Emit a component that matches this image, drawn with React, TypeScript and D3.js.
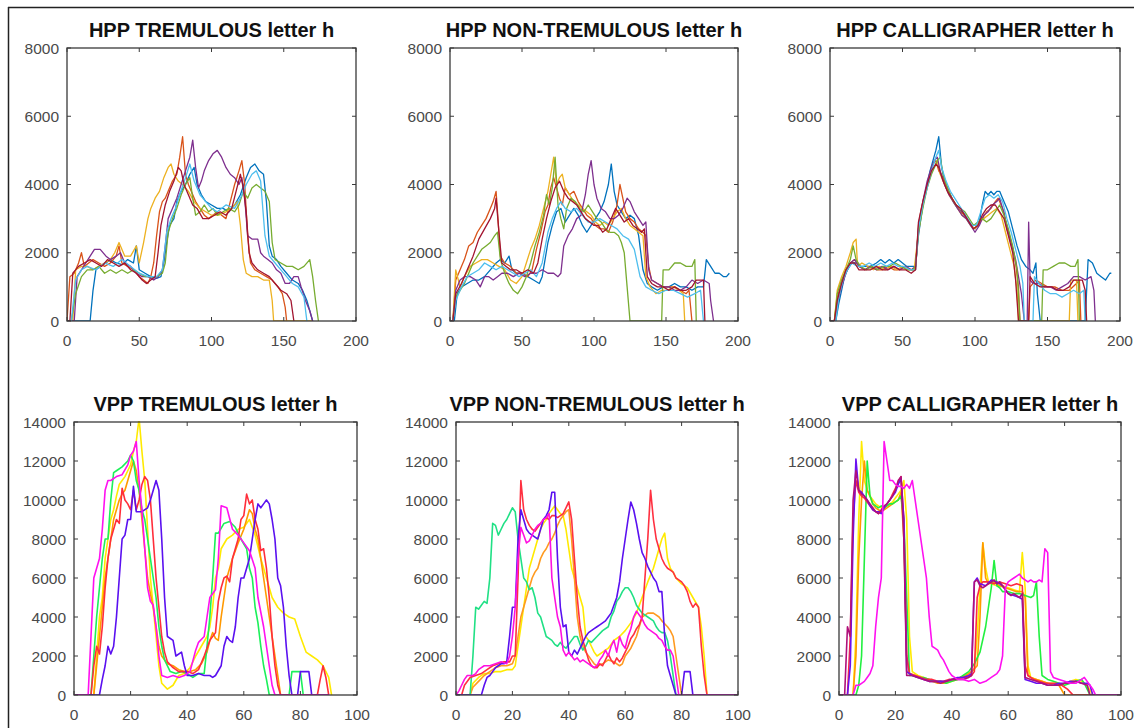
import React from 'react';
import * as d3 from 'd3';

type P = [number, number];

// ---------- tick labels ----------
const hppXTicks = [0, 50, 100, 150, 200];
const hppYTicks = [0, 2000, 4000, 6000, 8000];
const vppXTicks = [0, 20, 40, 60, 80, 100];
const vppYTicks = [0, 2000, 4000, 6000, 8000, 10000, 12000, 14000];

// ---------- colours ----------
const matlabColors = ['#0072BD', '#D95319', '#EDB120', '#7E2F8E', '#77AC30', '#4DBEEE', '#A2142F'];
const vppTremColors = ['#FFEA00', '#FF9900', '#1BF05A', '#FF2D3A', '#5A10F0', '#FF10F0'];
const vppNonColors = ['#FFEA00', '#FF9A20', '#20E085', '#FF3040', '#5A10F0', '#FF10E0'];
const vppCalColors = ['#FFEA00', '#FF9900', '#22F040', '#FF2A40', '#6A10F0', '#B0107A', '#FF10F0'];

// ---------- HPP TREMULOUS ----------
const hT_blue: P[] = [[0,0],[16,0],[18,900],[20,1500],[23,1600],[27,1700],[30,1800],[34,1700],[38,1650],[42,1800],[46,1700],[48,2200],[50,1500],[54,1400],[58,1300],[62,1250],[65,1300],[67,1700],[69,2300],[71,2800],[74,3000],[76,3500],[79,3800],[82,4000],[85,4300],[88,4500],[90,4000],[93,3700],[96,3500],[100,3400],[104,3300],[108,3300],[112,3200],[116,3400],[120,3700],[124,4200],[127,4500],[130,4600],[133,4400],[136,4300],[138,3500],[140,2200],[142,1900],[145,1800],[148,1600],[152,1400],[156,1200],[160,1100],[163,900],[166,600],[168,300],[170,0]];
const hT_orange: P[] = [[0,0],[2,1300],[5,1400],[8,1700],[10,2000],[12,1600],[15,1700],[18,1800],[22,1700],[26,1600],[30,1700],[34,1900],[36,2200],[38,1700],[42,1600],[46,1500],[50,1300],[53,1200],[56,1100],[58,1300],[60,1700],[62,2500],[64,3200],[66,3500],[68,3600],[70,3800],[73,4100],[76,4300],[78,4800],[80,5400],[82,4300],[84,4000],[86,3800],[89,3500],[92,3300],[95,3100],[98,3000],[101,3100],[104,3200],[107,3100],[110,3000],[113,3500],[116,4000],[119,4400],[121,4700],[123,4000],[125,2500],[127,1700],[130,1500],[134,1400],[138,1300],[142,1200],[146,1000],[149,800],[151,400],[152,0]];
const hT_yellow: P[] = [[0,0],[4,0],[6,1500],[10,1600],[14,1600],[18,1500],[22,1600],[26,1700],[30,1800],[33,2000],[36,2300],[40,1900],[44,1900],[48,2200],[50,1700],[53,2300],[56,3000],[58,3300],[61,3600],[64,3800],[67,4200],[70,4500],[72,4600],[74,4300],[77,4100],[80,4000],[84,3800],[88,3500],[92,3300],[96,3200],[100,3100],[105,3100],[110,3200],[114,3300],[118,3500],[120,2800],[122,1800],[124,1400],[128,1300],[132,1300],[136,1200],[140,1200],[142,600],[143,0],[170,0]];
const hT_purple: P[] = [[0,0],[5,0],[7,1300],[10,1500],[13,1700],[16,1900],[19,2100],[23,2100],[27,1900],[30,1800],[34,1900],[37,2000],[40,1700],[44,1600],[48,1400],[52,1300],[56,1300],[60,1200],[63,1300],[66,1500],[68,2200],[70,3000],[73,3300],[76,3600],[79,4000],[82,4400],[85,4800],[87,5300],[89,4500],[91,3900],[93,4100],[95,4400],[98,4700],[101,4900],[104,5000],[107,4800],[110,4500],[113,4300],[116,4200],[119,4000],[121,4200],[123,3600],[125,2500],[128,2400],[132,2400],[134,2000],[136,1900],[139,1800],[142,1700],[145,1500],[148,1400],[151,1100],[154,1100],[157,1300],[160,1300],[162,1000],[165,600],[168,300],[170,0]];
const hT_green: P[] = [[0,0],[3,0],[6,800],[10,1300],[14,1500],[18,1500],[22,1600],[26,1400],[30,1500],[34,1400],[38,1500],[42,1400],[46,1500],[50,1400],[54,1300],[58,1300],[62,1300],[66,1400],[68,1700],[70,2600],[73,3000],[76,3300],[79,3700],[82,4000],[85,4200],[87,3600],[89,3100],[92,3200],[95,3400],[98,3200],[101,3300],[104,3100],[108,3200],[112,3300],[116,3200],[119,3400],[122,3800],[125,3600],[128,3900],[131,4000],[134,3900],[137,3800],[140,3500],[142,2300],[144,1800],[148,1700],[152,1600],[156,1600],[160,1500],[164,1600],[168,1800],[170,1300],[172,600],[174,0]];
const hT_lightblue: P[] = [[0,0],[3,0],[6,1200],[10,1500],[14,1600],[20,1500],[26,1700],[32,1600],[38,1800],[44,1600],[50,1400],[56,1300],[62,1300],[66,1500],[69,2600],[72,3000],[75,3300],[78,3700],[82,4200],[85,4600],[88,4100],[92,3700],[96,3500],[100,3300],[104,3200],[110,3400],[116,3300],[120,3600],[124,4000],[128,4300],[131,4400],[134,4100],[137,2500],[140,1900],[144,1700],[148,1500],[152,1300],[156,1100],[160,1000],[164,700],[166,0]];
const hT_darkred: P[] = [[0,0],[2,0],[4,1400],[8,1600],[12,1700],[16,1800],[20,1700],[24,1600],[28,1800],[32,1700],[36,1600],[40,1700],[44,1500],[48,1400],[52,1200],[55,1100],[58,1200],[61,1300],[63,2000],[65,2800],[68,3400],[71,3800],[74,4100],[77,4500],[79,4400],[81,4000],[84,3700],[87,3400],[90,3300],[94,3000],[98,3000],[102,3100],[106,3200],[110,3100],[114,3300],[117,3800],[120,4300],[122,3900],[124,3200],[126,2000],[128,1700],[132,1500],[136,1400],[140,1300],[144,1100],[148,900],[152,800],[155,600],[157,0]];

// ---------- HPP NON-TREMULOUS ----------
const hN_blue: P[] = [[0,0],[3,0],[5,800],[8,1000],[12,1100],[16,1200],[20,1200],[24,1300],[28,1500],[32,1700],[35,1800],[38,1700],[41,1900],[43,1500],[46,1400],[50,1400],[54,1300],[58,1200],[62,1100],[64,1300],[66,1800],[68,2300],[71,2800],[74,3200],[77,3300],[80,2900],[83,3100],[86,3300],[89,3100],[92,2800],[95,2600],[98,2800],[101,3000],[104,3200],[107,3500],[110,4000],[112,4600],[114,3800],[116,3400],[119,3200],[122,3000],[125,3100],[128,3000],[131,2500],[134,1500],[137,1100],[140,1000],[144,900],[148,1000],[152,1000],[156,1100],[160,1000],[164,1000],[168,900],[172,1000],[176,1000],[178,1800],[181,1600],[184,1400],[187,1400],[190,1300],[192,1300],[194,1400]];
const hN_orange: P[] = [[0,0],[2,0],[4,1200],[7,1500],[10,1800],[13,2200],[16,2300],[19,2600],[22,2800],[25,3000],[28,3300],[30,3500],[32,3800],[33,3200],[35,1900],[38,1700],[42,1600],[46,1400],[50,1400],[54,1300],[57,1500],[60,2100],[63,2600],[66,3200],[68,3400],[70,3900],[72,4200],[74,3900],[76,3600],[78,3400],[80,3900],[83,3700],[86,3800],[89,3500],[92,3300],[95,3100],[98,3000],[101,2800],[104,2700],[107,2700],[110,2600],[113,2900],[116,3400],[118,4000],[120,3600],[122,3200],[125,3000],[128,2900],[131,2700],[134,2600],[136,2500],[138,1600],[140,1200],[144,1100],[148,1000],[152,1000],[156,1000],[160,900],[164,800],[166,900],[168,0]];
const hN_yellow: P[] = [[0,0],[2,0],[4,1500],[7,1000],[10,1300],[14,1600],[18,1700],[22,1800],[26,1800],[30,1700],[34,1600],[38,1500],[42,1200],[46,1100],[50,1300],[53,1700],[56,2100],[59,2400],[62,2800],[65,3300],[68,3800],[70,4300],[72,4800],[74,4000],[76,4200],[78,4300],[80,3900],[83,3700],[86,3500],[89,3400],[92,3300],[95,3200],[98,3100],[101,2900],[104,2800],[107,2900],[110,2800],[113,3000],[116,3200],[119,3300],[122,3000],[125,2800],[128,2700],[131,2600],[134,2500],[136,1300],[139,1000],[143,800],[147,900],[151,900],[155,1000],[159,900],[162,800],[163,0]];
const hN_purple: P[] = [[0,0],[2,0],[4,900],[7,1200],[10,1300],[14,1300],[18,1200],[21,1000],[24,1300],[27,1300],[30,1200],[33,1300],[36,1400],[40,1400],[44,1300],[48,1400],[52,1300],[56,1400],[60,1400],[64,1500],[68,1400],[72,1400],[75,1300],[77,1400],[79,2200],[82,2500],[85,2700],[88,3000],[91,3100],[94,3700],[96,4300],[98,4700],[100,4000],[102,3600],[105,3300],[108,3200],[111,3000],[114,3000],[117,3100],[120,3300],[123,3600],[125,3500],[128,3200],[131,3000],[134,2800],[136,2900],[138,1500],[140,1200],[144,1100],[148,1000],[152,1000],[156,900],[160,900],[164,1000],[168,1200],[172,1100],[176,1200],[180,1100],[181,600],[183,0]];
const hN_green: P[] = [[0,0],[2,0],[4,700],[7,900],[10,1100],[13,1400],[16,1700],[19,1900],[22,2100],[25,2200],[28,2300],[31,2500],[33,2600],[35,1800],[38,1400],[41,1100],[44,900],[47,800],[50,1000],[53,1300],[56,1700],[59,2200],[62,2600],[65,3100],[67,3700],[69,3400],[71,3900],[73,4800],[75,3400],[77,3000],[79,2700],[81,3300],[84,3600],[87,3500],[90,3300],[93,3200],[96,3400],[99,3200],[102,3000],[105,2900],[108,2700],[111,2600],[114,2600],[117,2500],[119,2300],[121,2000],[123,1000],[125,0],[147,0],[148,1500],[152,1500],[156,1700],[160,1700],[164,1600],[168,1600],[170,1800],[171,0]];
const hN_lightblue: P[] = [[0,0],[2,0],[4,600],[8,1000],[12,1300],[16,1400],[20,1500],[24,1700],[28,1600],[32,1500],[36,1600],[40,1500],[44,1400],[48,1300],[52,1400],[56,1500],[60,1300],[64,1700],[68,2600],[71,3000],[74,3300],[77,3500],[80,3300],[84,3200],[88,3300],[92,3100],[96,2900],[100,2900],[104,3000],[108,2900],[112,2800],[116,2700],[120,2500],[124,2400],[128,2100],[132,1300],[136,1000],[140,900],[145,800],[150,900],[155,900],[160,800],[165,700],[170,800],[174,900],[176,0]];
const hN_darkred: P[] = [[0,0],[2,0],[4,800],[8,1100],[12,1500],[16,1900],[20,2400],[24,2700],[28,3000],[31,3300],[32,3600],[34,2600],[36,1700],[39,1600],[42,1500],[46,1500],[50,1400],[54,1500],[58,1400],[61,1700],[64,2400],[67,3000],[70,3500],[73,3900],[76,4100],[79,3800],[82,3600],[85,3500],[88,3400],[91,3200],[94,3000],[97,2900],[100,2800],[103,2800],[106,2600],[109,2700],[112,3000],[115,3300],[118,3100],[121,2900],[124,3000],[127,2800],[130,2700],[133,2600],[135,2700],[137,1300],[140,1100],[144,1000],[148,1000],[152,900],[156,1000],[160,900],[164,900],[168,1000],[171,1200],[174,1200],[176,1200],[177,0]];

// ---------- HPP CALLIGRAPHER ----------
const hC_blue: P[] = [[0,0],[4,0],[6,500],[8,900],[10,1300],[12,1500],[15,1700],[18,1700],[21,1600],[24,1600],[28,1600],[32,1700],[35,1800],[38,1700],[41,1800],[44,1700],[47,1800],[50,1700],[53,1600],[56,1600],[59,1600],[61,2500],[63,3100],[65,3600],[67,4000],[69,4400],[71,4700],[73,5000],[75,5400],[77,4500],[79,4100],[82,3800],[85,3500],[88,3300],[91,3200],[94,3000],[97,2800],[100,2700],[103,2900],[105,3400],[107,3800],[109,3700],[111,3800],[113,3700],[115,3800],[117,3800],[119,3600],[121,3400],[123,3200],[126,2700],[129,2200],[132,1800],[135,1600],[138,1500],[140,1400],[142,1700],[143,800],[145,0],[176,0],[178,1800],[181,1700],[184,1400],[187,1300],[190,1200],[193,1400],[194,1400]];
const hC_orange: P[] = [[0,0],[3,0],[5,700],[8,1100],[11,1500],[14,1700],[17,1800],[20,1600],[24,1500],[28,1600],[32,1500],[36,1500],[40,1600],[44,1500],[48,1500],[52,1600],[56,1500],[59,1500],[61,2800],[63,3300],[66,3800],[69,4300],[71,4600],[73,4700],[75,4400],[78,4200],[81,3900],[84,3600],[87,3400],[90,3200],[93,3100],[96,2900],[99,2700],[102,2800],[105,3000],[108,3200],[111,3300],[114,3500],[116,3600],[118,3400],[120,3200],[122,2700],[125,2300],[128,1700],[130,1000],[131,0],[137,0],[138,1000],[142,1200],[146,1100],[150,1000],[155,1000],[160,900],[165,900],[170,1100],[172,1200],[173,0]];
const hC_yellow: P[] = [[0,0],[3,0],[5,900],[8,1300],[11,1600],[14,2000],[16,2300],[18,2400],[19,1600],[22,1700],[26,1600],[30,1500],[34,1600],[38,1500],[42,1600],[46,1500],[50,1600],[54,1500],[58,1500],[61,2600],[64,3400],[67,3900],[70,4400],[72,4500],[74,4700],[76,4300],[79,4000],[82,3700],[85,3500],[88,3300],[91,3100],[94,3000],[97,2800],[100,2700],[103,2900],[106,3000],[109,3100],[112,3200],[115,3300],[118,3100],[121,2600],[124,2100],[127,1600],[129,900],[130,0],[165,0],[166,1200],[170,1200],[171,0]];
const hC_purple: P[] = [[0,0],[3,0],[5,500],[8,1000],[11,1400],[14,1700],[17,1800],[20,1600],[24,1500],[28,1600],[32,1500],[36,1600],[40,1500],[44,1600],[48,1500],[52,1600],[56,1500],[59,1600],[61,2700],[64,3500],[67,4100],[70,4500],[72,4700],[74,4800],[76,4400],[79,4000],[82,3700],[85,3500],[88,3300],[91,3100],[94,3000],[97,2800],[100,2600],[103,2800],[106,3100],[109,3200],[112,3400],[115,3500],[117,3600],[119,3300],[122,2800],[125,2300],[128,1800],[130,1300],[132,800],[134,0],[136,0],[137,2900],[138,1200],[140,1100],[144,1100],[148,1000],[152,1000],[156,900],[160,1000],[164,1100],[168,1300],[172,1300],[176,1200],[180,1300],[182,900],[183,0]];
const hC_green: P[] = [[0,0],[3,0],[5,800],[8,1200],[11,1500],[14,1800],[16,2200],[18,1800],[21,1600],[25,1500],[29,1600],[33,1500],[37,1600],[41,1600],[45,1700],[49,1600],[53,1500],[57,1500],[59,1600],[61,2600],[64,3300],[67,3900],[70,4300],[72,4500],[74,4700],[76,4800],[78,4300],[81,3900],[84,3600],[87,3400],[90,3300],[93,3200],[96,3000],[99,2800],[102,2900],[105,3000],[108,2900],[111,3000],[114,3200],[117,3400],[120,3100],[123,2700],[126,2200],[129,1500],[131,0],[146,0],[147,1500],[150,1500],[154,1600],[158,1700],[162,1700],[166,1600],[169,1600],[171,1800],[172,0]];
const hC_lightblue: P[] = [[0,0],[4,0],[6,700],[9,1200],[12,1500],[15,1700],[19,1600],[23,1600],[27,1700],[31,1600],[35,1700],[39,1600],[43,1700],[47,1600],[51,1600],[55,1500],[59,1500],[61,2700],[64,3400],[67,3900],[70,4400],[73,4800],[75,5000],[77,4500],[80,4100],[83,3800],[86,3600],[89,3400],[92,3200],[95,3000],[98,2800],[101,2800],[104,3200],[107,3600],[110,3700],[113,3600],[116,3700],[119,3500],[122,3000],[125,2600],[128,2100],[131,1600],[133,1100],[134,0],[140,0],[141,1300],[144,1100],[148,900],[152,800],[156,800],[160,700],[164,800],[168,900],[172,800],[175,900],[176,0]];
const hC_darkred: P[] = [[0,0],[3,0],[5,600],[8,1100],[11,1500],[14,1700],[17,1700],[20,1500],[24,1500],[28,1500],[32,1600],[36,1500],[40,1500],[44,1600],[48,1500],[52,1500],[56,1400],[59,1500],[61,2900],[64,3500],[67,4000],[70,4400],[73,4600],[75,4500],[78,4100],[81,3800],[84,3600],[87,3400],[90,3300],[93,3100],[96,2900],[99,2700],[102,2800],[105,3100],[108,3300],[111,3400],[114,3400],[117,3200],[120,3000],[123,2500],[126,2000],[128,1200],[130,0],[137,0],[138,1300],[141,1100],[145,1000],[149,1000],[153,1000],[157,900],[161,900],[165,1000],[168,1200],[171,1200],[174,1200],[176,900],[177,0]];

// ---------- VPP TREMULOUS ----------
const vT_yellow: P[] = [[0,0],[7,0],[8,2000],[9,4000],[10,5000],[11,7000],[12,8000],[13,9000],[14,9500],[15,10200],[16,10800],[17,11000],[18,11200],[19,11500],[20,11800],[21,12500],[22,13000],[23,14200],[24,12500],[25,11000],[26,8500],[27,6000],[28,4500],[29,3000],[30,1500],[31,600],[33,300],[35,500],[37,1000],[39,1100],[41,1400],[43,2000],[45,2500],[47,3000],[48,3500],[49,4500],[50,6000],[51,6500],[52,7500],[54,8000],[56,8200],[58,8500],[60,8600],[62,9000],[64,8200],[66,7000],[68,6000],[70,5000],[72,4500],[74,4200],[76,4000],[78,3900],[80,3000],[82,2200],[84,2000],[86,1800],[88,1500],[90,900],[91,0]];
const vT_orange: P[] = [[0,0],[7,0],[8,1500],[9,3000],[10,4500],[11,6000],[12,7000],[13,8000],[14,9000],[15,9500],[16,10000],[17,10300],[18,10500],[19,11000],[20,11500],[21,12000],[22,11500],[23,10500],[24,9000],[25,7500],[26,6000],[27,5200],[28,4500],[29,3500],[30,2500],[31,2000],[33,1600],[35,1500],[37,1300],[39,1200],[41,1200],[43,1300],[45,1600],[47,2200],[48,2800],[49,3200],[50,2900],[51,2800],[52,4000],[53,5000],[54,6000],[55,6500],[56,7000],[58,7800],[60,8500],[61,9000],[62,9500],[63,9300],[64,8500],[65,8000],[66,7000],[67,6000],[68,5000],[69,4000],[70,3000],[71,2000],[72,1000],[73,0],[90,0]];
const vT_green: P[] = [[0,0],[6,0],[7,2000],[8,4000],[9,5500],[10,7000],[11,8000],[12,8000],[13,10000],[14,11400],[15,11500],[17,11700],[19,12000],[20,12300],[21,12000],[22,11000],[23,10500],[24,9500],[25,9000],[26,8000],[27,7000],[28,6000],[29,5000],[30,3500],[31,2500],[32,1800],[34,1200],[36,1100],[38,1200],[40,1100],[42,900],[44,1100],[46,1100],[47,2500],[48,4000],[49,6000],[50,8300],[51,8300],[53,8800],[55,8900],[57,8600],[59,8000],[61,7500],[62,6500],[63,6000],[64,4500],[65,3700],[66,2500],[67,1500],[68,800],[69,0],[76,0],[77,1200],[80,1200],[81,0],[90,0]];
const vT_red: P[] = [[0,0],[6,0],[7,1500],[8,2500],[9,2100],[10,3500],[11,5500],[12,7000],[13,8000],[14,8500],[15,9000],[16,8800],[17,10600],[18,10000],[19,9800],[20,9500],[21,10500],[22,9500],[23,10000],[24,10800],[25,11200],[26,11000],[27,10000],[28,8000],[29,6000],[30,4500],[31,3000],[32,2200],[33,1700],[35,1400],[37,1200],[40,1200],[42,1100],[44,1300],[46,2000],[48,2800],[50,3200],[51,4800],[52,5500],[53,6000],[54,6100],[55,5800],[56,7000],[57,7500],[58,8000],[59,9000],[60,9200],[61,10300],[62,9800],[63,10000],[64,9000],[65,8500],[66,7400],[67,7500],[68,6500],[69,5000],[70,3000],[71,1500],[72,500],[73,0],[86,0],[87,800],[88,1500],[89,900],[90,0]];
const vT_violet: P[] = [[0,0],[9,0],[10,800],[11,1500],[12,2500],[13,2100],[14,2500],[15,4000],[16,6000],[17,8000],[18,8200],[19,9000],[20,9000],[21,10700],[22,9400],[24,9400],[26,9600],[27,10000],[28,10500],[29,11000],[30,10500],[31,8000],[32,5000],[33,3000],[35,2800],[36,2000],[38,2200],[39,1500],[40,1000],[42,1000],[44,1100],[46,1000],[48,1000],[49,900],[50,1000],[52,1500],[53,2500],[54,3000],[55,2800],[56,2700],[57,3500],[58,5000],[59,6000],[60,6000],[61,6500],[62,7000],[63,8000],[64,9000],[65,9800],[66,9600],[67,9800],[68,10000],[69,9800],[70,9000],[71,8000],[72,6000],[73,5600],[74,4500],[75,2500],[76,1000],[77,0],[79,0],[80,1200],[83,1200],[84,0],[90,0]];
const vT_magenta: P[] = [[0,0],[5,0],[6,3000],[7,6000],[8,6500],[9,7000],[10,8500],[11,10500],[12,11000],[13,11000],[15,11200],[17,11300],[19,11800],[20,12300],[21,12500],[22,13000],[23,11000],[24,9500],[25,7500],[26,5500],[27,4800],[28,4600],[29,3500],[30,2000],[31,1000],[33,900],[35,1000],[37,900],[39,1000],[41,1200],[43,2300],[44,2700],[46,3000],[47,4000],[48,5000],[50,5400],[51,7000],[52,9700],[54,9600],[56,8500],[58,8200],[60,7800],[62,7400],[64,6500],[65,5000],[67,3500],[69,1500],[70,500],[71,0],[90,0]];

// ---------- VPP NON-TREMULOUS ----------
const vN_yellow: P[] = [[0,0],[5,0],[6,600],[8,900],[10,1100],[12,1100],[14,1200],[16,1200],[18,1300],[20,1300],[21,1500],[22,2500],[23,3500],[24,4500],[25,5500],[26,6500],[27,7000],[28,7500],[29,8000],[30,8500],[31,8800],[32,9000],[33,9300],[34,9500],[35,9700],[36,9500],[37,9300],[38,9200],[39,8500],[40,7500],[41,6500],[42,6000],[43,5500],[44,5000],[45,4500],[46,3000],[47,2800],[48,2500],[49,2200],[50,2000],[52,2200],[54,2400],[56,2800],[58,3000],[60,3300],[62,3700],[64,4200],[66,5000],[68,5800],[70,6500],[71,7000],[72,7500],[73,8000],[74,8300],[75,7000],[76,6500],[77,6300],[78,6000],[80,5700],[82,5500],[84,5000],[86,4500],[87,3500],[88,2000],[89,0],[100,0]];
const vN_orange: P[] = [[0,0],[5,0],[6,400],[8,700],[10,1000],[12,1200],[14,1400],[16,1500],[18,1500],[20,1600],[21,2000],[22,3000],[23,4000],[24,4500],[25,5000],[26,5500],[27,6000],[28,6300],[29,6500],[30,7000],[31,7300],[32,7500],[33,7800],[34,8000],[35,8300],[36,8700],[37,9000],[38,9200],[39,9400],[40,9500],[41,8000],[42,6000],[43,4000],[44,3000],[45,2500],[46,2200],[47,2000],[48,1800],[49,1600],[50,1500],[52,1600],[54,1800],[56,1700],[58,1500],[59,1600],[60,2000],[62,2400],[64,3000],[65,3500],[66,4000],[67,4100],[68,4200],[70,4200],[72,4000],[73,3800],[75,3500],[76,3300],[77,3000],[78,2000],[79,1000],[80,0],[100,0]];
const vN_green: P[] = [[0,0],[5,0],[6,2000],[7,4500],[8,4400],[9,4600],[10,4800],[11,4700],[12,6000],[13,8800],[14,8700],[15,8200],[16,8500],[17,8800],[18,9000],[19,9300],[20,9600],[21,9400],[22,8000],[23,7000],[24,6000],[25,5800],[26,5400],[27,5500],[28,5000],[29,4200],[30,4000],[31,3500],[32,3000],[33,2900],[34,2800],[35,2600],[36,2500],[37,2700],[38,2500],[39,2400],[40,2600],[41,2800],[42,3000],[43,3000],[44,2600],[45,2300],[46,2500],[47,2800],[48,2700],[50,3000],[52,3300],[54,3500],[55,4000],[56,4300],[57,4800],[58,5000],[59,5300],[60,5500],[61,5500],[62,5300],[63,5000],[64,4600],[65,4400],[66,4200],[68,4000],[70,3800],[71,3500],[72,3300],[73,3200],[74,3200],[75,2800],[76,2000],[77,1000],[78,0],[100,0]];
const vN_red: P[] = [[0,0],[2,0],[3,500],[5,900],[7,1000],[9,1100],[11,1300],[13,1500],[15,1600],[17,1700],[19,1700],[20,2000],[21,2000],[22,6000],[23,11000],[24,9500],[25,9000],[26,8700],[27,8500],[28,8400],[29,8600],[30,8800],[31,9000],[32,9100],[33,9000],[34,9200],[35,9200],[36,9100],[37,9200],[38,9300],[39,9600],[40,9900],[41,9000],[42,7000],[43,5000],[44,3500],[45,2800],[46,2300],[47,1800],[48,1500],[49,1400],[50,1400],[51,1600],[52,1500],[53,1800],[54,2100],[55,1800],[56,1600],[57,1900],[58,1700],[59,1900],[60,2200],[61,2500],[62,2900],[63,3100],[64,3400],[65,3600],[66,4000],[67,6000],[68,8000],[69,10500],[70,9000],[71,8000],[72,7500],[73,7000],[74,6700],[75,6500],[76,6400],[77,6300],[78,6000],[79,5900],[80,5800],[81,5600],[82,5300],[83,4800],[84,4500],[85,4700],[86,4500],[87,2500],[88,1000],[89,0],[100,0]];
const vN_violet: P[] = [[0,0],[9,0],[10,500],[11,900],[12,1000],[13,1200],[14,1400],[15,1500],[16,1600],[17,1600],[18,1700],[19,3000],[20,4500],[21,4500],[22,8000],[23,9500],[24,9000],[25,8500],[26,8300],[27,8200],[28,8100],[29,8000],[30,8500],[31,9000],[32,9200],[33,9500],[34,10400],[35,10400],[36,7000],[37,4500],[38,3500],[39,3600],[40,2200],[41,2000],[42,2300],[43,2100],[44,2400],[45,2700],[46,3000],[47,3200],[48,3300],[49,3400],[50,3500],[51,3600],[52,3700],[53,3800],[54,4000],[55,4200],[56,4600],[57,5000],[58,5800],[59,7000],[60,8000],[61,9000],[62,9900],[63,9500],[64,8800],[65,8000],[66,7300],[67,7000],[68,6600],[69,6300],[70,6000],[71,5800],[72,5300],[73,5300],[74,3000],[75,1500],[76,1000],[77,500],[78,0],[80,0],[81,1200],[83,1200],[84,0],[100,0]];
const vN_magenta: P[] = [[0,0],[1,200],[2,500],[3,800],[4,1000],[6,1000],[7,1100],[8,1300],[9,1400],[10,1500],[12,1500],[14,1600],[16,1700],[18,1600],[19,2000],[20,3000],[21,4500],[22,7000],[23,8600],[24,8200],[25,7800],[26,7900],[27,8200],[28,8500],[29,8700],[30,8800],[31,9000],[32,9100],[33,9300],[34,6000],[35,5000],[36,4000],[37,3500],[38,2300],[39,2000],[40,2200],[41,2000],[42,1800],[43,1900],[44,1700],[45,1800],[46,1700],[47,1600],[48,1500],[49,1400],[50,1500],[51,1800],[52,2000],[53,2300],[54,2000],[55,2500],[56,2800],[57,2200],[58,3000],[59,2600],[60,2400],[61,3000],[62,3400],[63,4000],[64,4300],[65,4100],[66,3900],[67,3600],[68,3400],[69,3300],[70,3200],[71,3100],[72,2900],[73,2800],[74,2500],[75,2300],[76,2300],[77,2000],[78,1000],[79,0],[100,0]];

// ---------- VPP CALLIGRAPHER ----------
const vC_yellow: P[] = [[0,0],[5,0],[6,3000],[7,9000],[8,13000],[9,11000],[10,10500],[11,10200],[12,10000],[13,9800],[14,9700],[15,9600],[16,9600],[17,9700],[18,9800],[19,9900],[20,10100],[21,10300],[22,10500],[23,11000],[24,9000],[25,3000],[26,1200],[28,1000],[30,900],[32,800],[34,700],[36,700],[38,600],[40,700],[42,800],[44,900],[46,1100],[48,1300],[49,3000],[50,5500],[51,7800],[52,6500],[53,5800],[54,5700],[56,5600],[58,5600],[60,5500],[62,5400],[64,5300],[65,7300],[66,5500],[67,1500],[68,900],[70,800],[72,700],[74,600],[76,600],[78,500],[80,600],[82,700],[84,800],[86,700],[88,500],[90,0],[100,0]];
const vC_orange: P[] = [[0,0],[5,0],[6,2000],[7,7000],[8,10000],[9,12000],[10,10500],[11,10200],[12,9800],[13,9600],[14,9500],[15,9400],[16,9500],[17,9600],[18,9700],[19,9800],[20,9900],[21,10000],[22,10400],[23,8000],[24,2000],[25,1100],[27,1000],[29,900],[31,800],[33,700],[35,600],[37,600],[39,700],[41,800],[43,900],[45,1000],[47,1200],[49,1500],[50,4000],[51,7800],[52,6000],[53,5700],[55,5800],[57,5600],[59,5500],[61,5400],[63,5300],[65,5300],[66,5000],[67,1000],[68,900],[70,800],[72,700],[74,600],[76,500],[78,500],[80,0],[100,0]];
const vC_green: P[] = [[0,0],[6,0],[7,500],[8,2000],[9,7000],[10,12000],[11,10200],[12,9800],[13,9700],[14,9600],[15,9700],[16,9600],[17,9700],[18,9800],[19,9800],[20,9900],[21,10000],[22,10200],[23,9000],[24,5000],[25,1000],[26,1000],[28,900],[30,900],[32,800],[34,700],[36,700],[38,600],[40,700],[42,800],[44,1000],[46,1200],[48,1600],[50,2200],[52,3500],[53,4500],[54,5500],[55,6900],[56,5600],[57,5500],[58,5300],[60,5300],[62,5200],[64,5200],[66,5100],[68,5000],[69,5100],[70,5800],[71,3000],[72,1000],[74,800],[76,700],[78,600],[80,500],[82,600],[84,700],[86,800],[87,600],[88,300],[89,0],[100,0]];
const vC_red: P[] = [[0,0],[3,0],[4,3000],[5,9000],[6,11000],[7,10400],[8,10200],[9,10100],[10,9900],[11,9700],[12,9500],[13,9400],[14,9300],[15,9400],[16,9600],[17,9800],[18,10000],[19,10300],[20,10600],[21,10900],[22,11200],[23,9000],[24,2000],[25,1100],[27,1000],[29,900],[31,800],[33,800],[35,700],[37,700],[39,800],[41,800],[43,900],[45,900],[47,1000],[48,1200],[49,5000],[50,5600],[51,5800],[53,5800],[55,5700],[57,5800],[59,5700],[61,5600],[63,5700],[65,5600],[66,1500],[67,1000],[69,800],[71,700],[73,600],[75,600],[77,600],[79,500],[81,300],[83,0],[100,0]];
const vC_violet: P[] = [[0,0],[3,0],[4,1500],[5,8000],[6,12100],[7,10500],[8,10400],[9,10200],[10,10000],[11,9700],[12,9500],[13,9400],[14,9400],[15,9300],[16,9600],[17,9800],[18,10000],[19,10200],[20,10400],[21,10800],[22,11100],[23,9000],[24,1200],[26,1000],[28,900],[30,800],[32,700],[34,700],[36,700],[38,700],[40,800],[42,900],[44,900],[46,1000],[47,1100],[48,5800],[49,6000],[50,5700],[52,5600],[54,5900],[56,5800],[58,5600],[60,5200],[62,5100],[64,5000],[65,4900],[66,800],[68,700],[70,600],[72,600],[74,500],[76,500],[78,600],[80,600],[82,700],[84,700],[86,600],[88,600],[89,500],[90,0],[100,0]];
const vC_plum: P[] = [[0,0],[2,0],[3,3500],[4,3000],[5,10000],[6,11500],[7,10500],[8,10300],[9,10200],[10,10000],[11,9800],[12,9600],[13,9400],[14,9300],[15,9500],[16,9700],[17,9800],[18,10000],[19,10200],[20,10500],[21,11000],[22,11200],[23,8000],[24,1000],[26,1000],[28,900],[30,800],[32,700],[34,700],[36,600],[38,700],[40,800],[42,800],[44,800],[46,900],[47,1000],[48,5800],[49,5900],[50,5600],[51,5500],[52,5600],[53,5700],[54,5800],[55,5900],[56,5700],[57,5800],[58,5600],[59,5400],[60,5200],[61,5100],[62,5200],[63,5100],[64,5000],[65,5200],[66,900],[68,800],[70,700],[72,600],[74,500],[76,500],[78,500],[80,600],[82,600],[84,700],[86,600],[88,500],[89,0],[100,0]];
const vC_magenta: P[] = [[0,0],[5,0],[6,500],[7,500],[8,600],[9,700],[10,900],[11,1100],[12,1500],[13,3500],[14,5000],[15,6000],[16,13000],[17,12000],[18,11000],[19,11000],[20,10800],[21,10700],[22,10700],[23,10600],[24,10800],[25,10600],[26,11000],[27,10000],[28,9000],[29,8000],[30,7000],[31,6000],[32,4000],[33,2500],[34,2400],[35,2300],[36,2000],[37,1800],[38,1500],[39,1200],[40,1000],[41,900],[42,800],[44,800],[46,700],[48,800],[50,600],[52,700],[54,900],[56,1100],[57,1300],[58,2000],[59,5500],[60,5800],[61,5900],[62,6000],[63,6100],[64,6200],[65,6000],[66,5900],[67,5800],[68,5900],[69,5800],[70,5800],[71,5900],[72,5800],[73,7500],[74,7300],[75,1200],[76,900],[78,800],[80,700],[82,600],[84,600],[86,800],[87,900],[88,700],[89,500],[90,300],[91,0],[100,0]];

// ---------- panel layout ----------
interface Panel {
  title: string;
  series: P[][];
  colors: string[];
  xMax: number;
  yMax: number;
  xTicks: number[];
  yTicks: number[];
  left: number; right: number; top: number; bottom: number;
  lw: number;
}

const panels: Panel[] = [
  { title: 'HPP TREMULOUS letter h', series: [hT_blue, hT_orange, hT_yellow, hT_purple, hT_green, hT_lightblue, hT_darkred], colors: matlabColors, xMax: 200, yMax: 8000, xTicks: hppXTicks, yTicks: hppYTicks, left: 67, right: 356, top: 48, bottom: 321, lw: 1.3 },
  { title: 'HPP NON-TREMULOUS letter h', series: [hN_blue, hN_orange, hN_yellow, hN_purple, hN_green, hN_lightblue, hN_darkred], colors: matlabColors, xMax: 200, yMax: 8000, xTicks: hppXTicks, yTicks: hppYTicks, left: 450, right: 738, top: 48, bottom: 321, lw: 1.3 },
  { title: 'HPP CALLIGRAPHER letter h', series: [hC_blue, hC_orange, hC_yellow, hC_purple, hC_green, hC_lightblue, hC_darkred], colors: matlabColors, xMax: 200, yMax: 8000, xTicks: hppXTicks, yTicks: hppYTicks, left: 830, right: 1120, top: 48, bottom: 321, lw: 1.3 },
  { title: 'VPP TREMULOUS letter h', series: [vT_yellow, vT_orange, vT_green, vT_red, vT_violet, vT_magenta], colors: vppTremColors, xMax: 100, yMax: 14000, xTicks: vppXTicks, yTicks: vppYTicks, left: 74, right: 357, top: 422, bottom: 695, lw: 1.6 },
  { title: 'VPP NON-TREMULOUS letter h', series: [vN_yellow, vN_orange, vN_green, vN_red, vN_violet, vN_magenta], colors: vppNonColors, xMax: 100, yMax: 14000, xTicks: vppXTicks, yTicks: vppYTicks, left: 456, right: 738, top: 422, bottom: 695, lw: 1.6 },
  { title: 'VPP CALLIGRAPHER letter h', series: [vC_yellow, vC_orange, vC_green, vC_red, vC_violet, vC_plum, vC_magenta], colors: vppCalColors, xMax: 100, yMax: 14000, xTicks: vppXTicks, yTicks: vppYTicks, left: 839, right: 1121, top: 422, bottom: 695, lw: 1.6 },
];

const axisColor = '#3a3a3a';
const font = '"Liberation Sans", Arial, Helvetica, sans-serif';

function PanelView({ p, idx }: { p: Panel; idx: number }) {
  const x = d3.scaleLinear().domain([0, p.xMax]).range([p.left, p.right]);
  const y = d3.scaleLinear().domain([0, p.yMax]).range([p.bottom, p.top]);
  const line = d3.line<P>().x(d => x(d[0])).y(d => y(d[1]));
  const clipId = `clip-${idx}`;
  const tl = 4;
  return (
    <g>
      <defs>
        <clipPath id={clipId}>
          <rect x={p.left} y={p.top - 1} width={p.right - p.left} height={p.bottom - p.top + 1} />
        </clipPath>
      </defs>
      <g clipPath={`url(#${clipId})`}>
        {p.series.map((s, i) => (
          <path key={i} d={line(s) || ''} fill="none" stroke={p.colors[i % p.colors.length]} strokeWidth={p.lw} strokeLinejoin="round" />
        ))}
      </g>
      <rect x={p.left} y={p.top} width={p.right - p.left} height={p.bottom - p.top} fill="none" stroke={axisColor} strokeWidth={1.3} />
      {p.xTicks.map(t => (
        <g key={'x' + t}>
          <line x1={x(t)} x2={x(t)} y1={p.bottom} y2={p.bottom - tl} stroke={axisColor} strokeWidth={1} />
          <line x1={x(t)} x2={x(t)} y1={p.top} y2={p.top + tl} stroke={axisColor} strokeWidth={1} />
          <text x={x(t)} y={p.bottom + 19} textAnchor="middle" dominantBaseline="central" fontSize={15.5} fill="#4a4a4a" fontFamily={font}>{t}</text>
        </g>
      ))}
      {p.yTicks.map(t => (
        <g key={'y' + t}>
          <line x1={p.left} x2={p.left + tl} y1={y(t)} y2={y(t)} stroke={axisColor} strokeWidth={1} />
          <line x1={p.right} x2={p.right - tl} y1={y(t)} y2={y(t)} stroke={axisColor} strokeWidth={1} />
          <text x={p.left - 8} y={y(t)} textAnchor="end" dominantBaseline="central" fontSize={15.5} fill="#4a4a4a" fontFamily={font}>{t}</text>
        </g>
      ))}
      <text x={(p.left + p.right) / 2} y={p.top - 11} textAnchor="middle" fontSize={20} fontWeight="bold" fill="#111" fontFamily={font}>{p.title}</text>
    </g>
  );
}

export default function App() {
  return (
    <svg width={1134} height={728} style={{ position: 'absolute', left: 0, top: 0, background: '#fff' }}>
      <rect x={0} y={0} width={1134} height={728} fill="#fff" />
      <line x1={8} x2={1134} y1={7.5} y2={7.5} stroke="#222" strokeWidth={1.5} />
      <line x1={8.5} x2={8.5} y1={7} y2={728} stroke="#222" strokeWidth={1.5} />
      {panels.map((p, i) => <PanelView key={i} p={p} idx={i} />)}
    </svg>
  );
}
